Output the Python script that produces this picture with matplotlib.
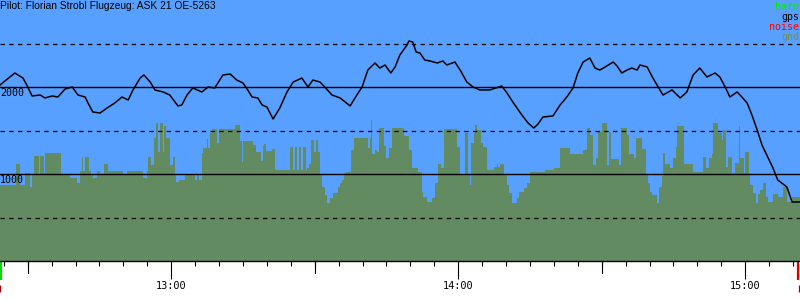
import numpy as np
import matplotlib.pyplot as plt
import matplotlib.transforms as mtransforms

# time in minutes after 12:00, altitude in metres
gps_t = [24.2, 27.3, 29.0, 29.8, 30.9, 32.6, 33.6, 35.1, 36.3, 37.8, 39.3, 40.5, 42.0, 42.6,
         43.6, 45.1, 46.6, 48.2, 49.7, 51.0, 52.0, 53.5, 54.3, 55.6, 56.6, 58.3, 59.7, 61.4,
         62.2, 63.3, 64.5, 66.4, 67.7, 69.1, 70.8, 72.3, 73.7, 75.0, 76.0, 76.9, 78.1, 79.0,
         80.0, 81.3, 82.7, 84.2, 85.5, 87.3, 88.6, 89.6, 91.1, 92.1, 93.6, 95.3, 97.4, 98.8,
         99.9, 101.1, 102.6, 103.6, 104.7, 105.9, 106.8, 107.8, 109.3, 109.7, 110.5, 111.2,
         112.0, 113.0, 114.1, 115.6, 116.8, 117.6, 119.3, 120.4, 121.8, 123.1, 124.5, 126.6,
         129.1, 130.2, 131.4, 133.3, 134.6, 135.8, 136.7, 137.7, 139.8, 141.3, 142.7, 144.0,
         145.0, 146.1, 147.5, 148.6, 149.6, 150.7, 152.4, 153.2, 154.2, 155.3, 156.3, 157.4,
         158.0, 159.5, 160.7, 161.8, 162.8, 164.7, 166.4, 167.8, 169.1, 170.5, 172.0, 173.7,
         174.7, 175.8, 176.8, 178.3, 179.3, 180.4, 181.4, 182.5, 183.5, 184.8, 185.8, 186.8,
         188.7, 189.8, 191.4]
gps_alt = [2023, 2161, 2103, 2023, 1897, 1908, 1874, 1897, 1885, 1977, 2000, 1908, 1885, 1816,
           1713, 1701, 1759, 1816, 1885, 1851, 1966, 2103, 2138, 2057, 1966, 1943, 1908, 1782,
           1793, 1908, 1989, 1943, 2000, 1989, 2138, 2149, 2080, 2046, 1966, 1885, 1874, 1793,
           1770, 1632, 1759, 1943, 2057, 2103, 2000, 2080, 2057, 2000, 1908, 1874, 1782, 1908,
           2000, 2195, 2276, 2218, 2253, 2161, 2230, 2368, 2483, 2529, 2517, 2402,
           2391, 2310, 2299, 2276, 2299, 2253, 2287, 2195, 2057, 2000, 1966, 1966,
           2011, 1931, 1828, 1678, 1586, 1529, 1575, 1655, 1667, 1793, 1885, 1989,
           2161, 2287, 2333, 2218, 2195, 2230, 2287, 2241, 2161, 2195, 2218, 2195,
           2253, 2230, 2103, 2000, 1908, 1966, 1874, 1943, 2138, 2218, 2115, 2161,
           2115, 2000, 1885, 1943, 1885, 1816, 1678, 1506, 1333, 1184, 1069, 931,
           851, 678, 678]

gnd_t = [24.2, 27.5, 28.4, 29.4, 30.5, 30.9, 31.3, 32.4, 32.6, 33.3, 33.6, 36.9, 38.8, 40.2,
         40.9, 41.3, 41.6, 42.0, 42.9, 43.2, 43.7, 44.4, 45.1, 46.0, 46.8, 49.9, 50.7, 54.2,
         54.9, 55.2, 55.7, 56.3, 56.8, 57.3, 57.6, 58.2, 58.5, 59.0, 59.7, 60.4, 60.8, 61.0,
         61.7, 62.9, 65.0, 65.3, 65.9, 66.4, 66.7, 67.4, 67.7, 68.1, 68.5, 69.6, 70.0, 73.3,
         74.4, 74.7, 75.1, 77.0, 77.7, 78.7, 79.1, 79.4, 79.8, 81.0, 81.7, 84.8, 85.5, 85.9,
         86.2, 86.8, 87.1, 87.6, 88.1, 88.4, 88.7, 89.2, 89.9, 90.3, 90.6, 91.1, 91.6, 92.1,
         92.5, 93.2, 93.9, 94.9, 95.3, 95.6, 96.1, 96.5, 97.6, 98.2, 101.2, 101.6, 101.8,
         102.0, 102.5, 103.0, 103.5, 104.5, 105.0, 105.6, 106.1, 108.7, 109.8, 110.3, 111.6,
         112.4, 112.7, 113.4, 114.6, 115.1, 115.7, 116.3, 117.0, 119.7, 120.4, 121.4, 122.1,
         122.5, 122.6, 123.2, 123.5, 123.9, 124.7, 125.1, 126.0, 127.5, 128.0, 128.4, 128.7,
         129.6, 130.1, 130.7, 131.2, 132.2, 132.8, 133.7, 134.4, 135.0, 138.1, 140.0, 141.3,
         143.4, 146.1, 147.0, 147.5, 148.2, 148.7, 149.3, 150.0, 151.2, 151.6, 151.9, 153.7,
         154.1, 155.2, 155.7, 156.7, 157.2, 158.4, 159.3, 159.7, 160.1, 160.6, 161.5, 162.0,
         162.5, 162.9, 163.2, 164.3, 165.0, 165.5, 165.8, 167.2, 169.1, 171.2, 171.9, 172.4,
         173.0, 173.3, 174.4, 175.1, 175.4, 175.9, 176.5, 177.2, 177.9, 178.6, 178.9, 179.7,
         180.0, 180.7, 181.1, 181.7, 182.2, 182.7, 183.1, 183.8, 184.3, 184.8, 185.9, 186.9,
         188.0, 188.7, 189.7, 191.45]
gnd_alt = [874, 1115, 874, 1011, 851, 989, 1207, 989, 1207, 1011, 1241, 1000, 954, 897,
           1034, 1195, 1034, 1195, 1034, 1000, 954, 1034, 1000, 1115, 1034, 1000, 1034, 954,
           1034, 1195, 1103, 1414, 1586, 1253, 1586, 1253, 1552, 1414, 1103, 1195, 1000, 908,
           931, 1000, 931, 1000, 931, 1241, 1299, 1402, 1299, 1471, 1517, 1356, 1517, 1563,
           1379, 1138, 1379, 1333, 1253, 1149, 1322, 1345, 1264, 1287, 1046, 1310, 1046, 1310,
           1046, 1310, 1046, 1310, 1046, 1069, 1115, 1391, 1253, 1391, 1253, 1000, 851, 759,
           667, 724, 782, 851, 897, 931, 1011, 1023, 1276, 1414, 1299, 1414, 1621,
           1230, 1276, 1253, 1529, 1322, 1184, 1299, 1529, 1437, 1276, 1069, 1023,
           793, 736, 678, 724, 897, 1115, 1069, 1517, 1310, 1000, 1471, 1000,
           874, 1356, 1471, 1563, 1506, 1356, 1310, 1046, 1080, 1115, 1080, 1115,
           1000, 874, 782, 667, 724, 793, 839, 897, 1023, 1046, 1069, 1299,
           1230, 1276, 1529, 1448, 1103, 1184, 1483, 1586, 1103, 1483, 1172, 1103,
           1529, 1448, 1230, 1184, 1414, 1287, 1000, 897, 793, 759, 667, 851,
           977, 1241, 1115, 1069, 1184, 1310, 1552, 1115, 1023, 1195, 1069, 1184,
           1230, 1586, 1471, 1391, 1506, 1080, 1195, 1011, 1126, 1552, 1184, 1011,
           1253, 1011, 874, 782, 667, 770, 816, 897, 736, 678, 770, 736,
           851, 678, 736]

takeoff_t = 24.4
landing_t = 191.0
t_start, t_end = 24.2, 191.45

title = "Pilot: Florian Strobl Flugzeug: ASK 21 OE-5263"
legend_items = ["baro", "gps", "noise", "gnd"]
legend_colors = ["#00ee00", "black", "#ff0000", "#6b8e5e"]

sky = "#58a0ff"
gnd_color = "#628b62"
mono = "DejaVu Sans Mono"

fig = plt.figure(figsize=(8, 3), dpi=100)
ax = fig.add_axes([0, 39 / 300, 1, 261 / 300])
ax.set_facecolor(sky)

ax.stairs(gnd_alt, gnd_t, fill=True, color=gnd_color, baseline=0, zorder=1)

for h in [1000, 2000]:
    ax.axhline(h, color="black", lw=1.0, zorder=2)
for h in [500, 1500, 2500]:
    ax.axhline(h, color="black", lw=0.9, ls=(0, (3.5, 3.5)), zorder=2)

ax.plot(gps_t, gps_alt, color="black", lw=1.1, zorder=3)

ax.set_xlim(t_start, t_end)
ax.set_ylim(0, 3000)

for s in ["top", "left", "right"]:
    ax.spines[s].set_visible(False)
ax.spines["bottom"].set_linewidth(1.0)
ax.set_yticks([])

ax.set_xticks([60, 120, 180], labels=["13:00", "14:00", "15:00"])
ax.set_xticks(np.arange(25, 191, 5), minor=True)
ax.tick_params(axis="x", which="major", length=13, width=0.8, pad=1.5,
               labelsize=7.4, labelfontfamily=mono)
ax.tick_params(axis="x", which="minor", length=3.8, width=0.8)

# half-hour ticks, medium length
trans = mtransforms.blended_transform_factory(ax.transData, ax.transAxes)
for t in [30, 90, 150]:
    ax.plot([t, t], [0, -12 / 261], color="black", lw=0.8, transform=trans, clip_on=False)

# takeoff / landing markers under the axis
ax.plot([takeoff_t, takeoff_t], [-1 / 261, -19 / 261], color="#00dd00", lw=1.6,
        transform=trans, clip_on=False, solid_capstyle="butt")
ax.plot([takeoff_t - 0.1, takeoff_t - 0.1], [-24 / 261, -31 / 261], color="#a00000", lw=0.9,
        transform=trans, clip_on=False, solid_capstyle="butt")
ax.plot([landing_t, landing_t], [-1 / 261, -19 / 261], color="#dd0000", lw=1.6,
        transform=trans, clip_on=False, solid_capstyle="butt")
ax.plot([landing_t + 0.2, landing_t + 0.2], [-24 / 261, -31 / 261], color="#a00000", lw=0.9,
        transform=trans, clip_on=False, solid_capstyle="butt")

for h in [1000, 2000]:
    ax.annotate(str(h), xy=(0, h), xycoords=("axes fraction", "data"),
                xytext=(0, -1), textcoords="offset points", ha="left", va="top",
                fontsize=7.2, family=mono, zorder=4)

fig.text(0.0, 1 - 1 / 300, title, ha="left", va="top", fontsize=7.4,
         family="Liberation Sans")

for i, (name, c) in enumerate(zip(legend_items, legend_colors)):
    fig.text(799 / 800, 1 - (6.5 + 10 * i) / 300, name, ha="right", va="center",
             color=c, fontsize=7.2, family=mono)

fig.savefig("out.png", dpi=100)
